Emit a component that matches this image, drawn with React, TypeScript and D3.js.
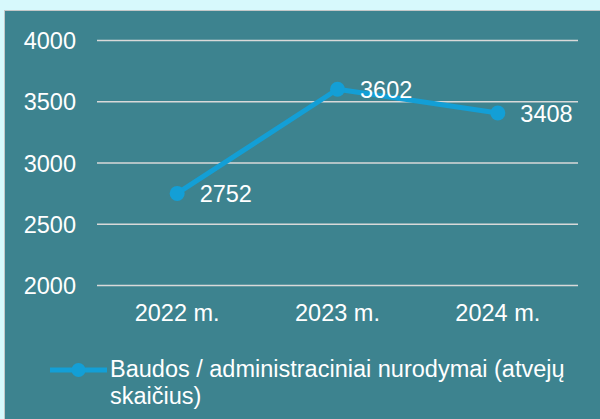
import React, { useEffect, useRef } from 'react';
import * as d3 from 'd3';

const years = ['2022 m.', '2023 m.', '2024 m.'];
const values = [2752, 3602, 3408];
const yTicks = [2000, 2500, 3000, 3500, 4000];
const seriesName = 'Baudos / administraciniai nurodymai (atvejų';
const seriesName2 = 'skaičius)';

const W = 600;
const H = 419;

const App = () => {
  const svgRef = useRef<SVGSVGElement>(null);

  useEffect(() => {
    const svg = d3.select(svgRef.current);
    svg.selectAll('*').remove();

    const font = 'Liberation Sans, Arial, sans-serif';
    const fontSize = '23.5px';
    const lineColor = '#139fd6';

    svg.append('rect').attr('width', W).attr('height', H).attr('fill', '#d7f9fc');
    // panel with thin grey edge
    svg.append('rect').attr('x', 4).attr('y', 10).attr('width', W - 4).attr('height', H - 10).attr('fill', '#c4c8c8');
    svg.append('rect').attr('x', 5).attr('y', 11).attr('width', W - 5).attr('height', H - 11).attr('fill', '#3d838f');

    const plot = { left: 97, right: 578, top: 40.5, bottom: 285.5 };

    const x = d3.scaleBand().domain(years).range([plot.left, plot.right]);
    const y = d3.scaleLinear().domain([2000, 4000]).range([plot.bottom, plot.top]);

    // gridlines
    svg.append('g')
      .selectAll('line')
      .data(yTicks)
      .enter()
      .append('line')
      .attr('x1', plot.left)
      .attr('x2', plot.right)
      .attr('y1', (d) => y(d))
      .attr('y2', (d) => y(d))
      .attr('stroke', '#d9d9d9')
      .attr('stroke-width', 1.5);

    // y labels
    svg.append('g')
      .selectAll('text')
      .data(yTicks)
      .enter()
      .append('text')
      .attr('x', 76)
      .attr('y', (d) => y(d) + 8.5)
      .attr('text-anchor', 'end')
      .attr('fill', '#ffffff')
      .style('font-family', font)
      .style('font-size', fontSize)
      .text((d) => d);

    // x labels
    svg.append('g')
      .selectAll('text')
      .data(years)
      .enter()
      .append('text')
      .attr('x', (d) => (x(d) as number) + x.bandwidth() / 2)
      .attr('y', 320.5)
      .attr('text-anchor', 'middle')
      .attr('fill', '#ffffff')
      .style('font-family', font)
      .style('font-size', fontSize)
      .text((d) => d);

    const pts = years.map((yr, i) => ({ cx: (x(yr) as number) + x.bandwidth() / 2, cy: y(values[i]), v: values[i] }));

    const line = d3.line<any>().x((d) => d.cx).y((d) => d.cy);
    svg.append('path')
      .attr('d', line(pts))
      .attr('fill', 'none')
      .attr('stroke', lineColor)
      .attr('stroke-width', 5)
      .attr('stroke-linejoin', 'round');

    svg.append('g')
      .selectAll('circle')
      .data(pts)
      .enter()
      .append('circle')
      .attr('cx', (d) => d.cx)
      .attr('cy', (d) => d.cy)
      .attr('r', 7.5)
      .attr('fill', lineColor);

    // data labels
    svg.append('g')
      .selectAll('text')
      .data(pts)
      .enter()
      .append('text')
      .attr('x', (d) => d.cx + 22.5)
      .attr('y', (d) => d.cy + 9)
      .attr('fill', '#ffffff')
      .style('font-family', font)
      .style('font-size', fontSize)
      .text((d) => d.v);

    // legend
    const lg = svg.append('g').attr('transform', 'translate(50,370)');
    lg.append('line').attr('x1', 0).attr('x2', 57).attr('y1', 0).attr('y2', 0)
      .attr('stroke', lineColor).attr('stroke-width', 5);
    lg.append('circle').attr('cx', 28.5).attr('cy', 0).attr('r', 7).attr('fill', lineColor);
    lg.append('text').attr('x', 60).attr('y', 7).attr('fill', '#ffffff')
      .style('font-family', font).style('font-size', fontSize).text(seriesName);
    lg.append('text').attr('x', 60).attr('y', 34).attr('fill', '#ffffff')
      .style('font-family', font).style('font-size', fontSize).text(seriesName2);
  }, []);

  return (
    <svg ref={svgRef} width={W} height={H} style={{ position: 'absolute', left: 0, top: 0 }} />
  );
};

export default App;
